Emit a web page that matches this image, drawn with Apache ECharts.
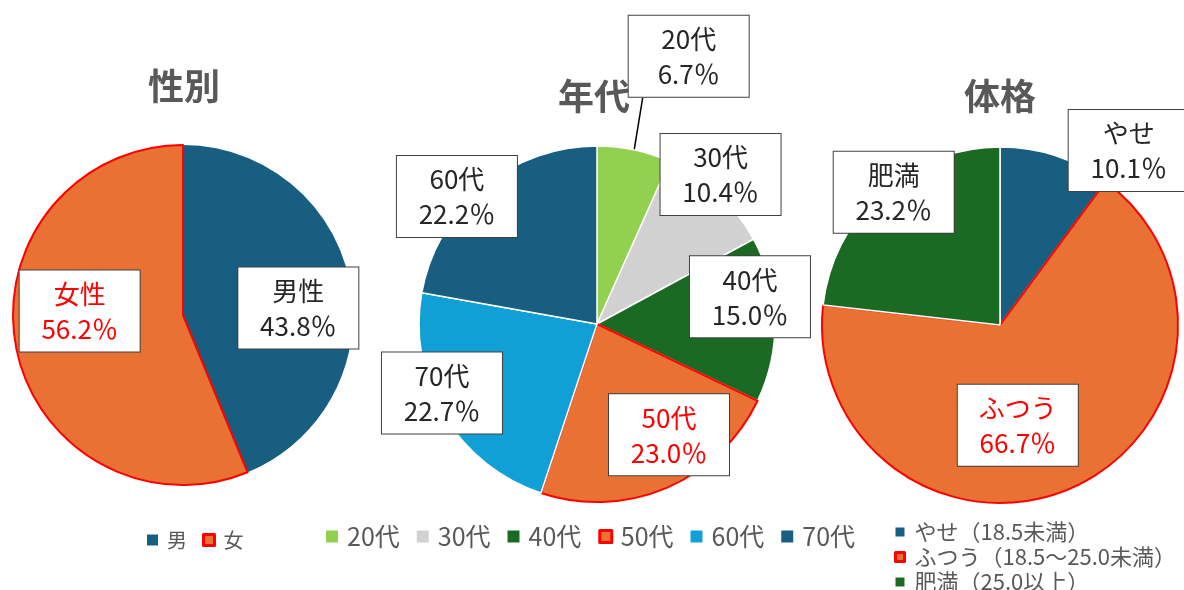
<!DOCTYPE html>
<html>
<head>
<meta charset="utf-8">
<script src="https://cdn.jsdelivr.net/npm/echarts@6/dist/echarts.min.js"></script>
<style>
  html, body { margin: 0; padding: 0; background: #ffffff; }
  #chart { width: 1184px; height: 590px; }
</style>
</head>
<body>
<div id="chart"></div>
<script>
// 性別
const sexNames = ['男', '女'];
const sexLabelNames = ['男性', '女性'];
const sexValues = [43.8, 56.2];

// 年代
const ageNames = ['20代', '30代', '40代', '50代', '60代', '70代'];
const ageLabelNames = ['20代', '30代', '40代', '50代', '70代', '60代'];
const ageValues = [6.7, 10.4, 15.0, 23.0, 22.7, 22.2];

// 体格
const bodyNames = ['やせ（18.5未満）', 'ふつう（18.5～25.0未満）', '肥満（25.0以上）'];
const bodyLabelNames = ['やせ', 'ふつう', '肥満'];
const bodyValues = [10.1, 66.7, 23.2];

const chartTitles = ['性別', '年代', '体格'];

const FONT = '"Noto Sans CJK JP", "Noto Sans", sans-serif';
const NAVY = '#175e80', ORANGE = '#e87133', LIME = '#92d050', GREY = '#d1d1d1',
      GREEN = '#1b6a23', SKY = '#11a0d6', RED = '#ff0000';

const sexColors = [NAVY, ORANGE];
const ageColors = [LIME, GREY, GREEN, ORANGE, SKY, NAVY];
const bodyColors = [NAVY, ORANGE, GREEN];
const highlighted = { '女': true, '50代': true, 'ふつう（18.5～25.0未満）': true };

// label box shifts from the library's default label spot
const sexShift = [[29, 10], [-17, -21]];
const ageShift = [[-12, -82], [61, -82], [61, -25], [36, 26], [-76, 22], [-81, -57]];
const bodyShift = [[100, -87], [-19, 16], [-45, -64]];

function mover(shift) {
  return function (p) {
    const o = shift[p.dataIndex];
    const r = p.labelRect;
    const cx = r.x + r.width / 2 + o[0];
    const cy = r.y + r.height / 2 + o[1];
    let x = cx, y = cy;
    if (p.align === 'left') x = cx - r.width / 2;
    else if (p.align === 'right') x = cx + r.width / 2;
    if (p.verticalAlign === 'top') y = cy - r.height / 2;
    else if (p.verticalAlign === 'bottom') y = cy + r.height / 2;
    const out = { x: x, y: y };
    // leader line: keep the slice end, hook onto the lower left of the box
    if (p.labelLinePoints && p.labelLinePoints.length) {
      out.labelLinePoints = [
        p.labelLinePoints[0],
        [cx - r.width / 2 + 14, cy + r.height / 2]
      ];
    }
    return out;
  };
}

// two centred lines: name, then percentage
function labelText(names) {
  return function (p) {
    return '{t|' + names[p.dataIndex] + '}\n{t|' + p.value.toFixed(1) + '％}';
  };
}

function buildData(names, values, colors, sliceBorder) {
  return names.map(function (n, i) {
    const hot = !!highlighted[n];
    return {
      name: n,
      value: values[i],
      itemStyle: {
        color: colors[i],
        borderColor: hot ? RED : '#ffffff',
        borderWidth: hot ? 2 : sliceBorder
      },
      label: hot ? { color: RED } : undefined
    };
  });
}

const labelBase = {
  show: true,
  position: 'inside',
  fontFamily: FONT,
  fontSize: 26,
  lineHeight: 35,
  color: '#262626',
  backgroundColor: '#ffffff',
  borderColor: '#404040',
  borderWidth: 1,
  padding: [6, 1, 5, 1],
  rich: {
    t: { width: 118, align: 'center', fontFamily: FONT, fontSize: 26, lineHeight: 35 }
  }
};

function pieSeries(center, radius, names, labelNames, values, colors, shift, sliceBorder) {
  return {
    type: 'pie',
    z: 3,
    center: center,
    radius: radius,
    startAngle: 90,
    clockwise: true,
    avoidLabelOverlap: false,
    silent: true,
    emphasis: { disabled: true },
    label: Object.assign({ formatter: labelText(labelNames) }, labelBase),
    labelLine: { show: false },
    labelLayout: mover(shift),
    data: buildData(names, values, colors, sliceBorder)
  };
}

const sexSeries = pieSeries([183, 315], 170, sexNames, sexLabelNames, sexValues, sexColors, sexShift, 0);
const ageSeries = pieSeries([597, 324], 178, ageNames, ageLabelNames, ageValues, ageColors, ageShift, 1.5);
const bodySeries = pieSeries([1000, 325], 178, bodyNames, bodyLabelNames, bodyValues, bodyColors, bodyShift, 1.5);

// 20代 sits outside with a leader line
ageSeries.data[0].label = { position: 'outside' };
ageSeries.data[0].labelLine = { show: true, length: 12, length2: 0, smooth: false,
  lineStyle: { color: '#000000', width: 1.5 } };

function legendItems(names) {
  return names.map(function (n) {
    return highlighted[n]
      ? { name: n, itemStyle: { borderColor: RED, borderWidth: 3 } }
      : { name: n, itemStyle: { borderWidth: 0 } };
  });
}

const titleStyle = { fontFamily: FONT, fontSize: 36, fontWeight: 'bold', color: '#595959' };
const legendText = { fontFamily: FONT, color: '#595959' };

const option = {
  backgroundColor: '#ffffff',
  animation: false,
  title: [
    { text: chartTitles[0], left: 184, top: 68, textAlign: 'center', padding: 0, z: 1, textStyle: titleStyle },
    { text: chartTitles[1], left: 594, top: 78, textAlign: 'center', padding: 0, z: 1, textStyle: titleStyle },
    { text: chartTitles[2], left: 1000, top: 78, textAlign: 'center', padding: 0, z: 1, textStyle: titleStyle }
  ],
  legend: [
    {
      data: legendItems(sexNames), left: 147, top: 530, padding: 0, orient: 'horizontal',
      itemWidth: 11, itemHeight: 11, itemGap: 15, selectedMode: false, icon: 'rect',
      textStyle: Object.assign({ fontSize: 20, padding: [0, 0, 0, 4] }, legendText)
    },
    {
      data: legendItems(ageNames), left: 326, top: 524, padding: 0, orient: 'horizontal',
      itemWidth: 12, itemHeight: 12, itemGap: 17, selectedMode: false, icon: 'rect',
      textStyle: Object.assign({ fontSize: 25, padding: [0, 0, 0, 4] }, legendText)
    },
    {
      data: legendItems(bodyNames), left: 894, top: 521, height: 90, padding: 0, orient: 'vertical',
      itemWidth: 9, itemHeight: 9, itemGap: 3, selectedMode: false, icon: 'rect',
      textStyle: Object.assign({ fontSize: 22, lineHeight: 22, padding: [0, 0, 0, 5] }, legendText)
    }
  ],
  series: [sexSeries, ageSeries, bodySeries]
};

const chart = echarts.init(document.getElementById('chart'), null, { renderer: 'canvas' });
chart.setOption(option);
</script>
</body>
</html>
